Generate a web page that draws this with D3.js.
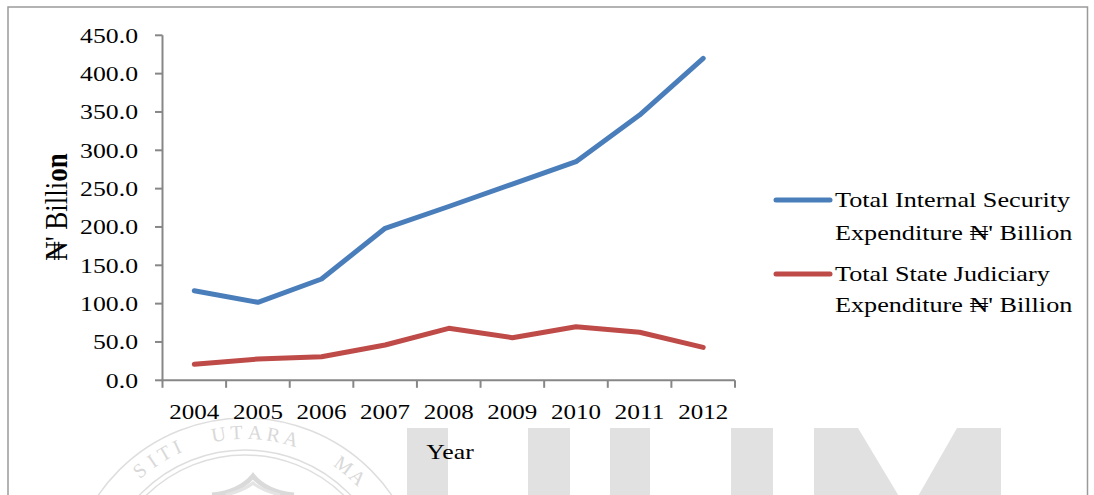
<!DOCTYPE html>
<html>
<head>
<meta charset="utf-8">
<script src="https://cdn.jsdelivr.net/npm/d3@7"></script>
<style>
  html, body { margin: 0; padding: 0; background: #fff; }
  svg { display: block; }
  text { font-family: "Liberation Serif", "Times New Roman", "DejaVu Serif", serif; fill: #000; }
</style>
</head>
<body>
<svg id="chart" width="1094" height="495"></svg>
<script>
// Expenditure data, ₦ billion
const years = ["2004", "2005", "2006", "2007", "2008", "2009", "2010", "2011", "2012"];
const securitySpend = [116.9, 101.7, 132.1, 198.3, 226.7, 256.0, 285.1, 346.0, 420.0];
const judiciarySpend = [20.9, 27.8, 30.8, 46.0, 67.8, 55.6, 69.9, 62.6, 43.0];
const yTicks = [0, 50, 100, 150, 200, 250, 300, 350, 400, 450];
const seriesNames = [
  ["Total Internal Security", "Expenditure ₦' Billion"],
  ["Total State Judiciary", "Expenditure ₦' Billion"]
];
const seriesColors = ["#4a7ebb", "#be4b48"];

// letters of the seal ring that fall inside the page, with their ring angle (degrees from top)
const sealLetters = ["S", "I", "T", "I", "U", "T", "A", "R", "A", "M", "A"];
const sealAngles = [-40, -34.5, -29.5, -24.5, -9.3, -3, 3.5, 10, 16.3, 37, 43.5];

const svg = d3.select("#chart");
const FS = 22; // base font size

// ---- faint university watermark behind the chart ----
const wm = svg.append("g");
const seal = { cx: 245, cy: 596 };
[178, 146, 141].forEach(r => {
  wm.append("circle").attr("cx", seal.cx).attr("cy", seal.cy).attr("r", r)
    .attr("fill", "none").attr("stroke", "#dedede").attr("stroke-width", 1.5);
});
sealLetters.forEach((ch, i) => {
  wm.append("text")
    .attr("transform", `translate(${seal.cx},${seal.cy}) rotate(${sealAngles[i]}) translate(0,-157)`)
    .attr("text-anchor", "middle")
    .style("font-size", "20px").style("fill", "#d9d9d9")
    .text(ch);
});
wm.append("path")
  .attr("d", "M212,495 Q240,492 253,476 Q266,492 294,495")
  .attr("fill", "none").attr("stroke", "#dadada").attr("stroke-width", 5);
wm.append("path")
  .attr("d", "M226,495 Q245,490 253,483 Q261,490 280,495")
  .attr("fill", "none").attr("stroke", "#e4e4e4").attr("stroke-width", 3);

const blockFill = "#e1e1e1";
[[407, 448], [528, 570], [610, 650], [731, 773]].forEach(([a, b]) => {
  wm.append("rect").attr("x", a).attr("y", 428).attr("width", b - a).attr("height", 70).attr("fill", blockFill);
});
wm.append("polygon").attr("points", "814,428 858,428 900,498 814,498").attr("fill", blockFill);
wm.append("polygon").attr("points", "957,428 1001,428 1001,498 917,498").attr("fill", blockFill);

// ---- outer frame ----
svg.append("path").attr("d", "M8,498 L8,7 L1087.5,7 L1087.5,498")
  .attr("fill", "none").attr("stroke", "#9a9a9a").attr("stroke-width", 1.5);

// ---- scales ----
const x = d3.scaleBand().domain(years).range([162.5, 735]).paddingInner(0).paddingOuter(0);
const y = d3.scaleLinear().domain([0, 450]).range([380.3, 35.3]);
const axisColor = "#878787";

// y axis
const yAxis = svg.append("g");
yAxis.append("line").attr("x1", x.range()[0]).attr("x2", x.range()[0])
  .attr("y1", y(450)).attr("y2", y(0)).attr("stroke", axisColor).attr("stroke-width", 2);
yTicks.forEach(t => {
  yAxis.append("line").attr("x1", 155).attr("x2", x.range()[0])
    .attr("y1", y(t)).attr("y2", y(t)).attr("stroke", axisColor).attr("stroke-width", 2);
  yAxis.append("text")
    .attr("transform", `translate(138,${y(t) + 7.5}) scale(1.17,1)`)
    .attr("text-anchor", "end").style("font-size", FS + "px")
    .text(d3.format(".1f")(t));
});

// x axis
const xAxis = svg.append("g");
xAxis.append("line").attr("x1", x.range()[0] - 1).attr("x2", x.range()[1])
  .attr("y1", y(0)).attr("y2", y(0)).attr("stroke", axisColor).attr("stroke-width", 2);
const boundaries = years.map(d => x(d)).concat([x.range()[1]]);
boundaries.forEach(b => {
  xAxis.append("line").attr("x1", b).attr("x2", b)
    .attr("y1", y(0)).attr("y2", y(0) + 7.5).attr("stroke", axisColor).attr("stroke-width", 2);
});
years.forEach(d => {
  xAxis.append("text")
    .attr("x", x(d) + x.bandwidth() / 2).attr("y", 418.5)
    .attr("text-anchor", "middle").style("font-size", FS + "px")
    .attr("textLength", 50).attr("lengthAdjust", "spacingAndGlyphs")
    .text(d);
});

// axis titles
svg.append("text")
  .attr("transform", `translate(450,458.5) scale(1.17,1)`)
  .attr("text-anchor", "middle").style("font-size", FS + "px")
  .text("Year");
const yTitle = svg.append("text")
  .attr("transform", `translate(67,207) scale(1.17,1) rotate(-90)`)
  .attr("text-anchor", "middle").style("font-size", "27px");
yTitle.append("tspan").text("₦' Billi");
yTitle.append("tspan").style("font-weight", "bold").text("on");

// ---- series lines ----
const line = d3.line()
  .x((v, i) => x(years[i]) + x.bandwidth() / 2)
  .y(v => y(v));
[securitySpend, judiciarySpend].forEach((vals, k) => {
  svg.append("path").datum(vals)
    .attr("d", line)
    .attr("fill", "none").attr("stroke", seriesColors[k])
    .attr("stroke-width", 5).attr("stroke-linecap", "round").attr("stroke-linejoin", "round");
});

// ---- legend ----
const legendRows = [
  { lineY: 200, baselines: [207, 239.5] },
  { lineY: 274, baselines: [280.5, 312] }
];
legendRows.forEach((row, k) => {
  svg.append("line").attr("x1", 776).attr("x2", 830)
    .attr("y1", row.lineY).attr("y2", row.lineY)
    .attr("stroke", seriesColors[k]).attr("stroke-width", 5).attr("stroke-linecap", "round");
  seriesNames[k].forEach((txt, j) => {
    svg.append("text")
      .attr("transform", `translate(835,${row.baselines[j]}) scale(1.19,1)`)
      .style("font-size", FS + "px")
      .text(txt);
  });
});
</script>
</body>
</html>
